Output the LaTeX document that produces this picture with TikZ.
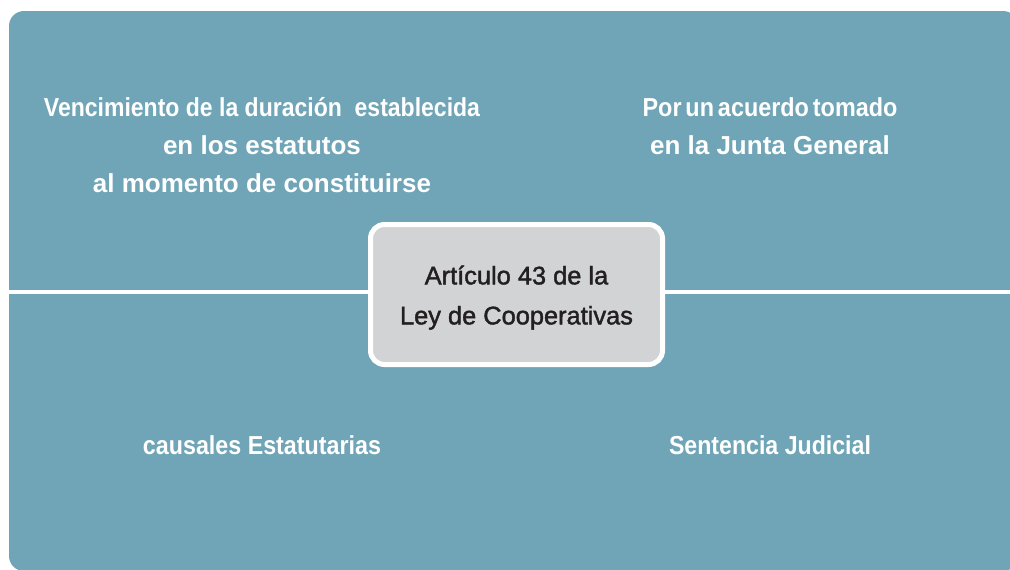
\documentclass[tikz,border=0pt]{standalone}
\usepackage{fontspec}
\setmainfont{Liberation Sans}
\newfontfamily\articlefont[FakeBold=1.6]{Liberation Sans}
\usepackage{xcolor}
\usepackage{graphicx}
\usetikzlibrary{positioning, calc}
\definecolor{panelblue}{RGB}{111,165,183}
\definecolor{boxgray}{RGB}{209,211,212}
\definecolor{inkgray}{RGB}{35,31,32}
\newcommand{\narrowline}[2][0.885]{\scalebox{#1}[1]{#2}}

\begin{document}
\begin{tikzpicture}[x=1pt, y=-1pt,
        cause/.style={
                text=white,
                font=\fontsize{26}{38}\selectfont\bfseries,
                align=center,
                inner sep=0pt,
        },
        article/.style={
                rectangle,
                rounded corners=14pt,
                fill=boxgray,
                draw=white,
                line width=5pt,
                minimum width=292pt,
                minimum height=140pt,
                text=inkgray,
                font=\fontsize{25.4}{40}\articlefont\selectfont,
                align=center,
        }]
            \clip (0, 0) rectangle (1010, 570);
            \fill[panelblue, rounded corners=15pt] (9, 11) rectangle (1018, 571);
            % dividing line
            \coordinate (westend) at (9, 292);
            \coordinate (eastend) at (1010, 292);
            \node[article] (ley) at (516.5, 294.5) {\rule{0pt}{25pt}Artículo 43 de la\\Ley de Cooperativas};
            \draw[white, line width=4.5pt] (westend) -- (westend -| ley.west);
            \draw[white, line width=4.5pt] (eastend -| ley.east) -- (eastend);
            % four causes
            \node[cause] (vencimiento) at (262, 145) {\narrowline{Vencimiento de la duración\ \ establecida}\\en los estatutos\\al momento de constituirse};
            \node[cause] (acuerdo) at (770, 126) {\narrowline[0.9]{Por\,un\,acuerdo\,tomado}\\en la Junta General};
            \node[cause] (estatutarias) at (262, 445) {\narrowline[0.895]{causales Estatutarias}};
            \node[cause] (sentencia) at (770, 445) {\narrowline[0.89]{Sentencia Judicial}};
\end{tikzpicture}
\end{document}
